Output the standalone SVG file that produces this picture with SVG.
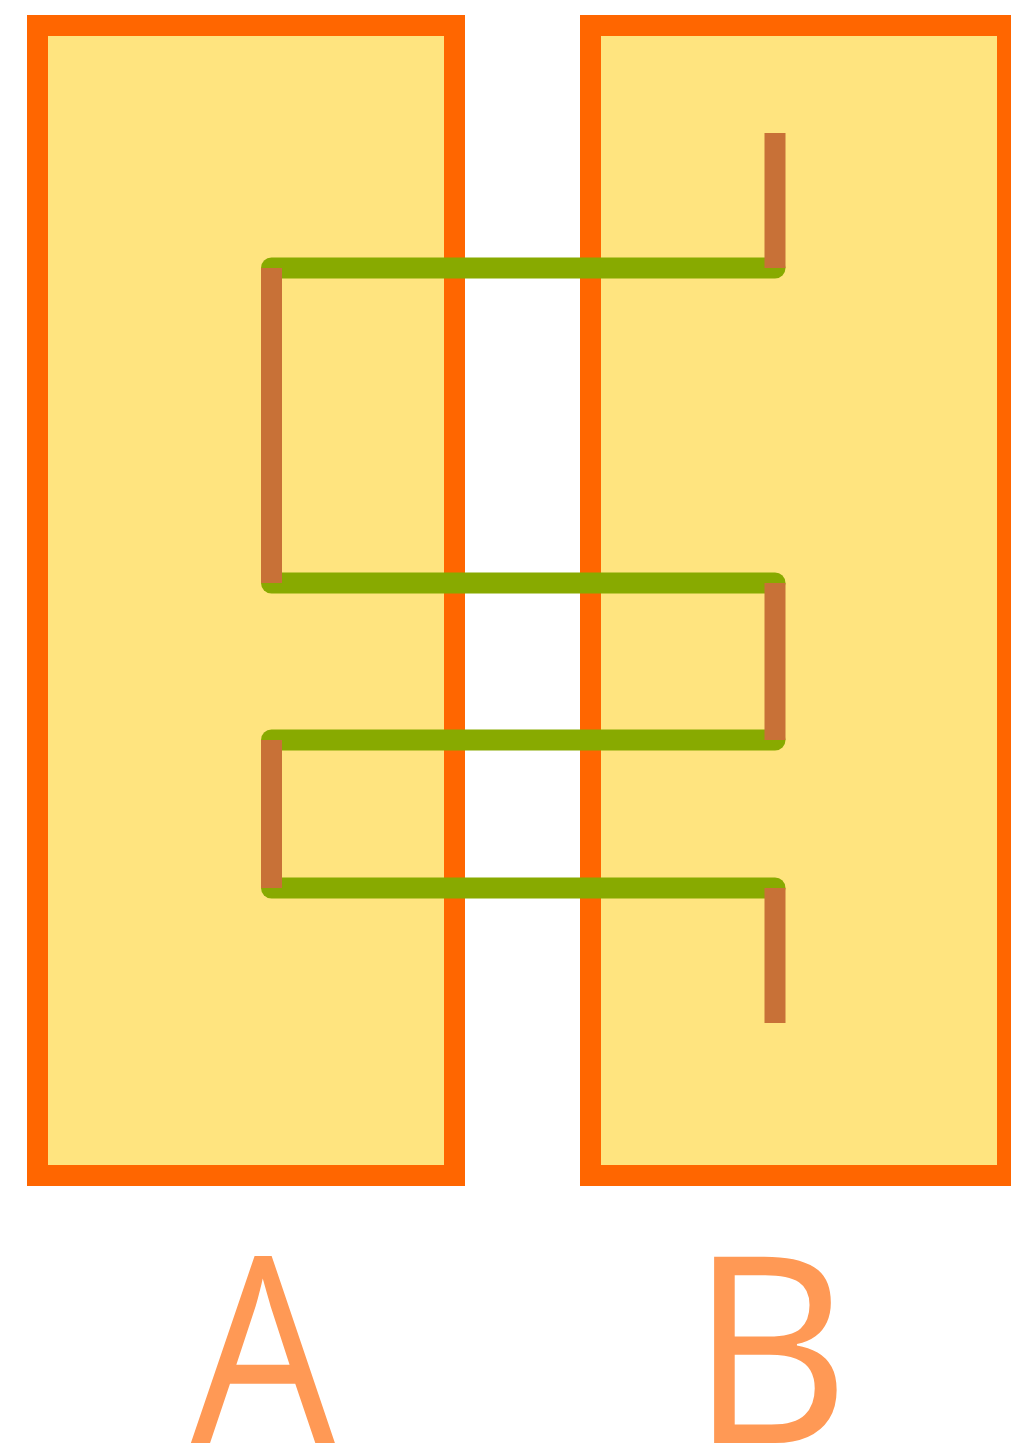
<svg xmlns="http://www.w3.org/2000/svg" width="1011" height="1453" viewBox="0 0 1011 1453">
<style>
.box{fill:#ffe47f;stroke:#ff6600;stroke-width:21}
.g{stroke:#88aa00;stroke-width:21;stroke-linecap:round;fill:none}
.b{stroke:#c87137;stroke-width:21;stroke-linecap:butt;fill:none}
.lbl{font-family:"Open Sans","Noto Sans",sans-serif;font-size:261px;fill:#ff9955;text-anchor:middle}
</style>
<rect width="1011" height="1453" fill="#ffffff"/>
<g id="nodeA"><rect class="box" x="37.5" y="25.5" width="417" height="1150"/></g>
<g id="nodeB"><rect class="box" x="590.5" y="25.5" width="417" height="1150"/></g>
<g id="connectors">
<line class="g" x1="271.5" y1="268" x2="775" y2="268"/>
<line class="g" x1="271.5" y1="583" x2="775" y2="583"/>
<line class="g" x1="271.5" y1="740" x2="775" y2="740"/>
<line class="g" x1="271.5" y1="888" x2="775" y2="888"/>
<line class="b" x1="775" y1="133" x2="775" y2="268"/>
<line class="b" x1="271.5" y1="268" x2="271.5" y2="583"/>
<line class="b" x1="775" y1="583" x2="775" y2="740"/>
<line class="b" x1="271.5" y1="740" x2="271.5" y2="888"/>
<line class="b" x1="775" y1="888" x2="775" y2="1023"/>
</g>
<g id="labelA"><text class="lbl" transform="translate(263,1443) scale(0.874,1)">A</text></g>
<g id="labelB"><text class="lbl" transform="translate(770,1443) scale(0.95,1)">B</text></g>
</svg>
